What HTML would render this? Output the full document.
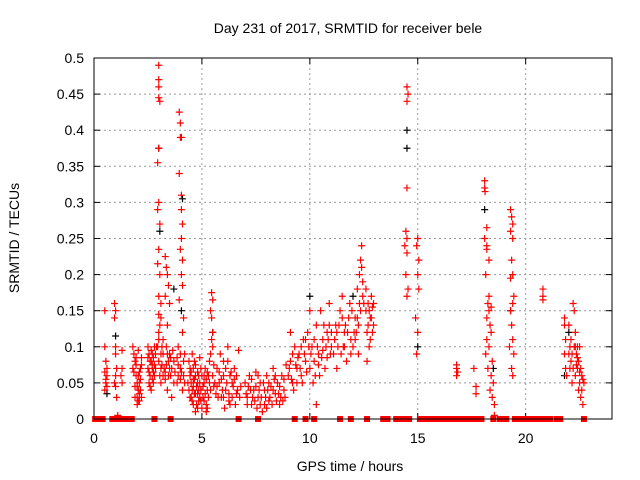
<!DOCTYPE html>
<html><head><meta charset="utf-8"><style>
html,body{margin:0;padding:0;background:#fff;}
svg{display:block;font-family:"Liberation Sans",sans-serif;}
</style></head><body>
<svg id="chart" width="640" height="480">
<text x="348" y="33" font-size="14" text-anchor="middle">Day 231 of 2017, SRMTID for receiver bele</text>
<text x="350" y="471" font-size="14" text-anchor="middle">GPS time / hours</text>
<text transform="translate(19,238) rotate(-90)" font-size="14" text-anchor="middle">SRMTID / TECUs</text>
<g id="grid"></g><g id="ticks"></g><g id="black"></g><g id="red"></g>
<rect x="94" y="58" width="518" height="361" fill="none" stroke="#000" stroke-width="1"/>
</svg>
<script>
const xTicks=[0,5,10,15,20];
const yTicks=[0,0.05,0.1,0.15,0.2,0.25,0.3,0.35,0.4,0.45,0.5];
const yTickLabels=["0","0.05","0.1","0.15","0.2","0.25","0.3","0.35","0.4","0.45","0.5"];
const redPoints=[
[0.5,0.15],[0.5,0.1],[0.55,0.08],[0.5,0.065],[0.6,0.06],[0.55,0.05],[0.5,0.04],[0.6,0.07],[0.55,0.055],[0.6,0.045],
[0.95,0.16],[1.0,0.15],[0.95,0.14],[1.0,0.1],[1.0,0.09],[1.05,0.07],[1.0,0.06],[0.95,0.05],[1.05,0.03],[1.1,0.005],[1.0,0.045],
[1.3,0.095],[1.3,0.07],[1.25,0.06],[1.3,0.05],
[1.8,0.1],[1.85,0.09],[1.9,0.08],[1.8,0.07],[1.95,0.06],[2.0,0.05],[2.05,0.04],[1.9,0.03],[2.1,0.035],[2.0,0.045],[2.15,0.055],[2.1,0.065],[2.2,0.075],[2.2,0.085],[2.05,0.025],[2.15,0.04],[2.0,0.03],[2.1,0.05],
[1.85,0.065],[1.95,0.075],[2.0,0.02],[2.05,0.06],[2.1,0.025],[2.15,0.07],[1.9,0.045],[2.2,0.03],[1.95,0.085],[2.05,0.095],
[2.5,0.1],[2.55,0.09],[2.6,0.08],[2.7,0.07],[2.6,0.06],[2.75,0.05],[2.65,0.04],[2.8,0.06],[2.7,0.075],[2.5,0.085],[2.8,0.1],[2.85,0.09],[2.55,0.05],[2.65,0.095],[2.75,0.065],
[2.5,0.07],[2.55,0.065],[2.6,0.045],[2.7,0.055],[2.75,0.085],[2.8,0.075],[2.85,0.07],[2.9,0.1],[2.65,0.08],[2.7,0.09],
[3.0,0.49],[3.0,0.47],[3.0,0.46],[3.0,0.445],[3.05,0.44],[3.0,0.375],[2.95,0.355],[3.0,0.3],[2.95,0.29],[3.05,0.27],[3.0,0.235],[2.95,0.215],[3.05,0.2],[3.0,0.17],[3.1,0.16],[3.0,0.145],[3.1,0.14],[3.05,0.13],[3.0,0.12],[2.95,0.1],[3.1,0.09],[3.0,0.08],[3.1,0.07],[3.05,0.06],[3.1,0.05],
[3.15,0.075],[3.2,0.06],[3.2,0.09],[3.25,0.07],[3.0,0.11],[3.15,0.1],[3.2,0.11],
[3.3,0.225],[3.35,0.21],[3.4,0.2],[3.45,0.185],[3.3,0.17],[3.5,0.16],[3.4,0.13],[3.35,0.1],[3.45,0.08],[3.6,0.07],[3.55,0.06],[3.7,0.05],[3.4,0.04],[3.6,0.03],[3.3,0.055],[3.5,0.09],
[3.3,0.065],[3.35,0.075],[3.45,0.06],[3.5,0.07],[3.55,0.085],[3.65,0.095],[3.7,0.08],[3.75,0.065],[3.4,0.09],
[3.95,0.425],[4.0,0.41],[4.0,0.39],[4.05,0.39],[3.95,0.34],[4.05,0.31],[4.05,0.29],[4.1,0.27],[4.05,0.25],[4.0,0.235],[4.1,0.22],[4.05,0.2],[4.1,0.185],[3.95,0.165],[4.15,0.14],[4.1,0.12],[3.9,0.1],[4.0,0.09],[4.15,0.08],[4.0,0.07],[3.9,0.06],[4.2,0.05],[4.1,0.04],[3.85,0.085],
[3.9,0.075],[4.0,0.055],[4.05,0.065],[4.15,0.06],[4.2,0.09],[3.85,0.05],
[4.4,0.08],[4.45,0.06],[4.5,0.05],[4.5,0.03],[4.55,0.04],[4.6,0.02],[4.6,0.07],[4.65,0.055],[4.7,0.01],[4.75,0.045],[4.8,0.035],[4.8,0.065],[4.85,0.025],[4.9,0.05],[4.95,0.04],[4.9,0.085],[5.0,0.015],[5.0,0.06],[4.55,0.09],[4.7,0.035],
[4.35,0.05],[4.4,0.04],[4.45,0.03],[4.5,0.065],[4.55,0.025],[4.6,0.045],[4.65,0.035],[4.7,0.06],[4.75,0.02],[4.8,0.05],[4.85,0.04],[4.9,0.03],[4.95,0.07],[4.6,0.055],[4.7,0.075],[4.8,0.015],[4.45,0.07],[4.65,0.08],[4.85,0.06],[4.95,0.025],
[5.05,0.03],[5.1,0.05],[5.15,0.07],[5.2,0.02],[5.25,0.04],[5.3,0.06],[5.35,0.08],[5.2,0.01],[5.45,0.175],[5.5,0.165],[5.4,0.15],[5.45,0.14],[5.5,0.12],[5.45,0.11],[5.5,0.1],[5.4,0.09],[5.55,0.045],
[5.05,0.045],[5.1,0.025],[5.15,0.035],[5.2,0.055],[5.25,0.065],[5.3,0.03],[5.35,0.05],[5.1,0.06],[5.25,0.015],[5.4,0.04],[5.5,0.06],[5.55,0.075],[5.6,0.05],[5.65,0.035],
[5.7,0.07],[5.8,0.05],[5.9,0.03],[6.0,0.06],[6.1,0.04],[6.2,0.08],[6.3,0.02],[6.4,0.05],[6.5,0.07],[6.6,0.035],[6.7,0.095],[5.85,0.09],[6.05,0.015],[6.35,0.065],[6.8,0.045],[6.2,0.1],[5.75,0.03],[6.55,0.02],
[5.7,0.045],[5.8,0.065],[5.9,0.055],[5.95,0.04],[6.0,0.03],[6.1,0.07],[6.15,0.05],[6.25,0.035],[6.3,0.06],[6.4,0.03],[6.45,0.045],[6.5,0.055],[6.6,0.06],[6.65,0.04],[6.75,0.03],[6.0,0.08],[6.25,0.025],
[7.0,0.05],[7.1,0.03],[7.2,0.06],[7.3,0.02],[7.4,0.04],[7.5,0.065],[7.6,0.03],[7.7,0.05],[7.8,0.01],[7.9,0.04],[8.0,0.06],[8.1,0.025],[8.2,0.045],[8.3,0.07],[8.4,0.035],[8.5,0.05],[8.6,0.02],[8.7,0.06],[8.8,0.04],[8.9,0.075],[7.15,0.045],[7.55,0.015],[7.95,0.03],[8.35,0.055],[8.75,0.025],
[7.05,0.035],[7.1,0.02],[7.25,0.04],[7.35,0.03],[7.45,0.025],[7.5,0.045],[7.65,0.04],[7.7,0.02],[7.75,0.03],[7.85,0.05],[7.9,0.02],[8.05,0.04],[8.1,0.05],[8.15,0.03],[8.25,0.02],[8.3,0.04],[8.45,0.025],[8.55,0.035],[8.6,0.045],[8.65,0.03],[8.8,0.055],[8.85,0.03],[7.3,0.055],[7.6,0.06],[8.0,0.015],[8.4,0.06],
[9.0,0.06],[9.1,0.08],[9.2,0.05],[9.3,0.1],[9.4,0.07],[9.5,0.09],[9.6,0.06],[9.7,0.11],[9.8,0.08],[9.9,0.12],[9.25,0.04],[9.65,0.05],[9.1,0.12],
[9.05,0.07],[9.15,0.055],[9.2,0.09],[9.35,0.075],[9.45,0.085],[9.55,0.07],[9.6,0.1],[9.75,0.09],[9.85,0.065],[9.95,0.1],[9.4,0.05],[9.8,0.11],
[10.0,0.07],[10.1,0.1],[10.2,0.08],[10.3,0.13],[10.4,0.09],[10.5,0.15],[10.6,0.11],[10.7,0.07],[10.8,0.12],[10.9,0.16],[10.15,0.05],[10.45,0.06],[10.75,0.1],[10.95,0.09],[10.3,0.02],[10.0,0.15],
[10.05,0.09],[10.2,0.11],[10.25,0.06],[10.35,0.1],[10.4,0.075],[10.55,0.085],[10.6,0.095],[10.65,0.13],[10.8,0.085],[10.85,0.11],[10.9,0.13],[11.0,0.1],[11.0,0.12],
[11.1,0.09],[11.2,0.13],[11.3,0.1],[11.4,0.15],[11.5,0.17],[11.6,0.12],[11.7,0.08],[11.8,0.14],[11.9,0.11],[11.25,0.07],[11.55,0.1],[11.85,0.16],
[11.15,0.11],[11.25,0.12],[11.35,0.13],[11.45,0.09],[11.5,0.14],[11.6,0.1],[11.65,0.13],[11.75,0.12],[11.9,0.09],[11.95,0.15],
[12.0,0.1],[12.1,0.14],[12.2,0.18],[12.3,0.2],[12.35,0.22],[12.4,0.24],[12.3,0.16],[12.45,0.19],[12.15,0.12],[12.25,0.09],
[12.05,0.12],[12.1,0.11],[12.2,0.14],[12.25,0.13],[12.35,0.15],[12.4,0.21],[12.45,0.17],[12.5,0.16],
[12.6,0.18],[12.7,0.16],[12.8,0.14],[12.9,0.12],[12.75,0.1],[12.65,0.08],[12.85,0.17],[12.95,0.13],
[12.6,0.15],[12.65,0.12],[12.7,0.13],[12.75,0.15],[12.8,0.11],[12.85,0.14],[12.9,0.155],[12.95,0.16],
[14.5,0.46],[14.55,0.45],[14.5,0.44],[14.5,0.32],[14.45,0.26],[14.5,0.25],[14.4,0.24],[14.5,0.23],[14.45,0.2],[14.55,0.18],[14.5,0.17],
[15.0,0.25],[14.95,0.24],[15.05,0.22],[15.0,0.2],[15.05,0.18],[14.9,0.14],[15.0,0.12],[14.95,0.09],
[16.8,0.075],[16.8,0.07],[16.85,0.065],[16.8,0.06],[17.6,0.07],[17.7,0.045],[17.7,0.035],
[18.1,0.33],[18.1,0.32],[18.12,0.315],[18.2,0.265],[18.1,0.25],[18.2,0.24],[18.2,0.235],[18.3,0.22],[18.15,0.2],[18.3,0.17],[18.25,0.16],[18.4,0.155],[18.3,0.15],[18.2,0.14],[18.35,0.13],[18.4,0.12],[18.2,0.11],[18.3,0.1],[18.15,0.09],[18.45,0.08],[18.25,0.07],[18.4,0.06],[18.5,0.05],[18.35,0.04],[18.45,0.03],[18.55,0.02],[18.55,0.005],
[19.3,0.29],[19.35,0.28],[19.4,0.27],[19.3,0.26],[19.4,0.25],[19.35,0.22],[19.4,0.2],[19.3,0.195],[19.45,0.17],[19.4,0.16],[19.3,0.15],[19.35,0.13],[19.4,0.11],[19.25,0.1],[19.45,0.09],[19.35,0.07],[19.4,0.06],
[20.8,0.18],[20.8,0.17],[20.8,0.165],
[21.8,0.14],[21.8,0.13],[21.85,0.11],[21.8,0.09],[21.85,0.07],[21.9,0.06],[22.0,0.13],[22.05,0.1],[22.1,0.08],[22.15,0.05],[22.2,0.16],[22.25,0.15],[22.3,0.12],[22.35,0.09],[22.4,0.07],[22.45,0.04],[22.5,0.1],[22.55,0.03],[22.6,0.06],[22.65,0.02],[22.7,0.05],[22.3,0.1],[22.4,0.085],[22.5,0.065],
[22.0,0.09],[22.05,0.07],[22.1,0.11],[22.15,0.09],[22.2,0.07],[22.25,0.1],[22.3,0.06],[22.35,0.075],[22.45,0.08],[22.5,0.05],[22.55,0.07],[22.6,0.04],[22.65,0.055],[22.4,0.1]
];
const blackPoints=[[3.0,0.375],[3.05,0.26],[4.1,0.305],[4.05,0.15],[3.7,0.18],[14.5,0.4],[14.5,0.375],[15.0,0.1],[18.1,0.29],[18.5,0.07],[19.3,0.15],[21.8,0.06],[22.0,0.12],[10.0,0.17],[12.0,0.17],[0.6,0.035],[1.0,0.115],[5.5,0.12]];
const zeroTimes=[0.05,0.2,0.4,0.85,1.05,1.3,1.45,1.6,1.75,2.8,3.55,6.7,7.6,9.3,9.8,10.2,11.4,11.9,12.65,13.4,13.6,14.0,14.15,14.3,14.45,14.6,15.1,15.25,15.4,15.55,15.7,15.9,16.05,16.2,16.35,16.6,16.75,16.9,17.05,17.2,17.35,17.5,17.65,17.8,17.95,18.5,18.8,18.95,19.1,19.5,19.65,19.8,19.95,20.1,20.25,20.4,20.55,20.7,20.85,21.0,21.15,21.45,21.6,22.7];
const X0=94,X1=612,Y0=419,Y1=58,XMAX=24,YMAX=0.5;
const xs=t=>X0+(X1-X0)*t/XMAX, ys=v=>Y0-(Y0-Y1)*v/YMAX;
const NS="http://www.w3.org/2000/svg";
function mk(tag,attrs,parent){const e=document.createElementNS(NS,tag);for(const k in attrs)e.setAttribute(k,attrs[k]);parent.appendChild(e);return e;}
const grid=document.getElementById('grid'),ticks=document.getElementById('ticks');
xTicks.forEach(t=>{const x=xs(t);
 if(t>0){const g=mk('line',{x1:x,x2:x,y1:Y1,y2:Y0,stroke:'#999','stroke-dasharray':'2,3'},grid);
 
 }
 mk('line',{x1:x,x2:x,y1:Y0,y2:Y0-6,stroke:'#000'},ticks);mk('line',{x1:x,x2:x,y1:Y1,y2:Y1+6,stroke:'#000'},ticks);
 const l=mk('text',{x:x,y:443,'font-size':14,'text-anchor':'middle'},ticks);l.textContent=String(t);
 
 });
yTicks.forEach((v,i)=>{const y=ys(v);
 if(v>0&&v<0.5){const g=mk('line',{x1:X0,x2:X1,y1:y,y2:y,stroke:'#999','stroke-dasharray':'2,3'},grid);
 
 }
 mk('line',{x1:X0,x2:X0+6,y1:y,y2:y,stroke:'#000'},ticks);mk('line',{x1:X1,x2:X1-6,y1:y,y2:y,stroke:'#000'},ticks);
 const l=mk('text',{x:84,y:y+5,'font-size':14,'text-anchor':'end'},ticks);l.textContent=yTickLabels[i];
 
 });
function plus(g,t,v,col,name){const x=xs(t),y=ys(v);
 const p=mk('path',{d:`M${x-3.5},${y}h7M${x},${y-3.5}v7`,stroke:col,'stroke-width':1.2,fill:'none'},g);
 
 }
const bg=document.getElementById('black'),rg=document.getElementById('red');
blackPoints.forEach(p=>plus(bg,p[0],p[1],'#000','black-point'));
redPoints.forEach(p=>plus(rg,p[0],p[1],'#f00','red-point'));
zeroTimes.forEach(t=>{const r=mk('rect',{x:xs(t)-3,y:Y0-3,width:6,height:6,fill:'#f00'},rg);
 
 });
</script>
</body></html>
